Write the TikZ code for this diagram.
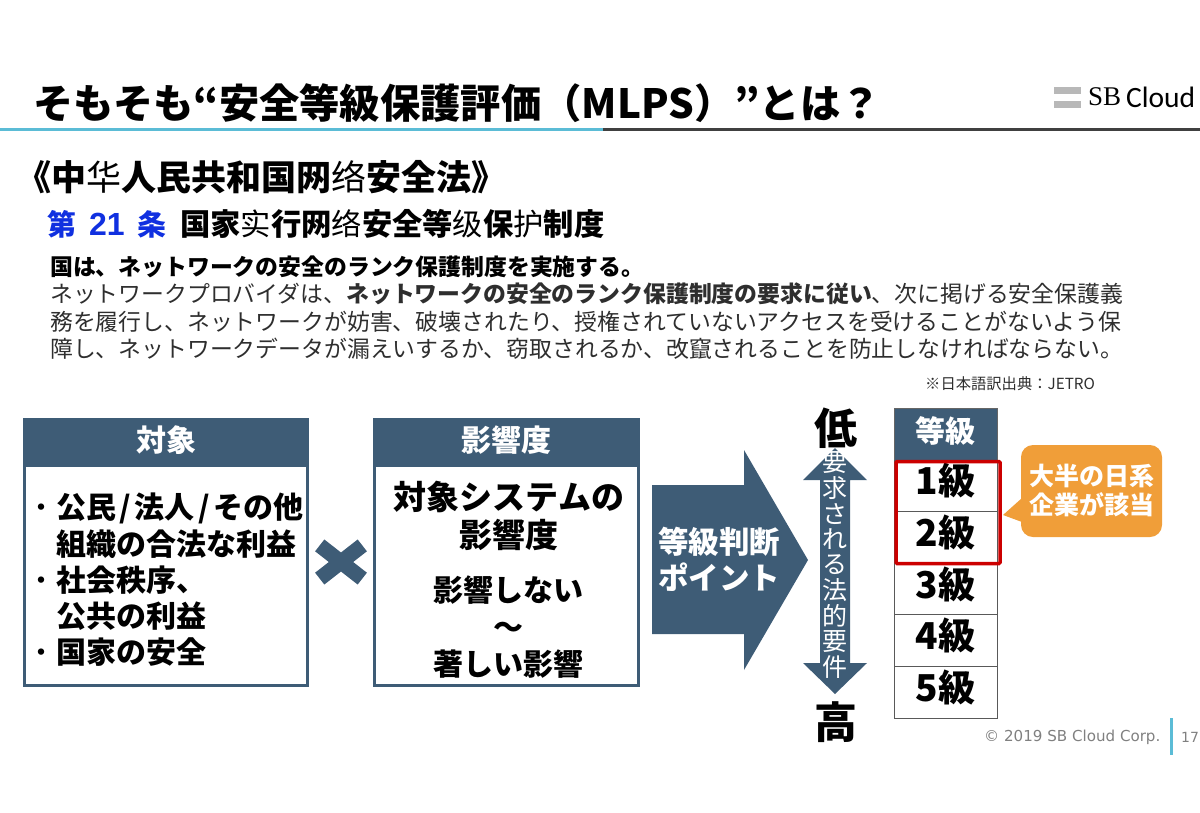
\documentclass[tikz,border=0pt]{standalone}
\usepackage{fontspec}
\setmainfont{Noto Sans CJK JP}
\newfontfamily\hanfont{Noto Sans CJK SC}
\newfontfamily\footfont{DejaVu Sans}
\newfontfamily\logoserif{Liberation Serif}
\newfontfamily\logosans{Carlito}
\newfontfamily\digitfont{Liberation Sans}
\newcommand{\fsize}[1]{\fontsize{#1}{#1}\selectfont}
\newcommand{\hanzi}[1]{{\hanfont\mdseries #1}}
\definecolor{slatebar}{HTML}{3E5C76}
\definecolor{linkblue}{HTML}{5BBCD6}
\definecolor{calloutorange}{HTML}{F09E39}
\definecolor{articleblue}{HTML}{1030E0}
\definecolor{bodygray}{HTML}{2E2E2E}
\tikzset{
  txt/.style={inner sep=0pt, anchor=west},
  bodyline/.style={txt, text=bodygray, font=\fsize{22.85}},
  headtxt/.style={inner sep=0pt, text=white, font=\fsize{30}\bfseries},
  gradetxt/.style={draw=black!65, line width=0.8pt, minimum width=103pt, minimum height=51.6pt, inner sep=0pt, text height=29pt, text depth=11pt, font=\fsize{37}\bfseries},
}
\begin{document}
\begin{tikzpicture}[x=1pt,y=-1pt]
    \useasboundingbox (0,0) rectangle (1200,812);

    % title
    \node[txt, font=\fsize{40.3}\bfseries] (title) at (33,103) {そもそも“安全等級保護評価（MLPS）”とは？};
    \draw[linkblue, line width=3pt] (0,129) -- (603,129);
    \draw[black!75, line width=3pt] (603,129) -- (1200,129);

    % logo
    \fill[black!28] (1054,87) rectangle (1081,94);
    \fill[black!28] (1054,101) rectangle (1081,108);
    \node[txt, font=\logoserif\fsize{27}] (logosb) at (1088,97) {SB};
    \node[txt, font=\logosans\fsize{29.5}] (logocloud) at (1126,97) {Cloud};

    % law text
    \node[txt, font=\fsize{35}\bfseries] (lawname) at (16,177) {《中\hanzi{华}人民共和国网\hanzi{络}安全法》};
    \node[txt, text=articleblue, font=\fsize{29}\bfseries] (article) at (47,224) {第\hspace{13pt}{\digitfont\fsize{32}21}\hspace{13pt}条};
    \node[txt, font=\fsize{30.3}\bfseries] (articlename) at (180,224) {国家\hanzi{实}行网\hanzi{络}安全等\hanzi{级}保\hanzi{护}制度};

    \node[bodyline, font=\fsize{22.85}\bfseries, text=black] (line0) at (50,267) {国は、ネットワークの安全のランク保護制度を実施する。};
    \node[bodyline] (line1) at (50,294) {ネットワークプロバイダは、\textbf{ネットワークの安全のランク保護制度の要求に従い}、次に掲げる安全保護義};
    \node[bodyline] (line2) at (50,322) {務を履行し、ネットワークが妨害、破壊されたり、授権されていないアクセスを受けることがないよう保};
    \node[bodyline] (line3) at (50,349) {障し、ネットワークデータが漏えいするか、窃取されるか、改竄されることを防止しなければならない。};
    \node[txt, text=bodygray, font=\fsize{15.3}] (source) at (925,384) {※日本語訳出典：JETRO};

    % left box
    \draw[slatebar, line width=3pt] (24.5,419.5) rectangle (307.5,685.5);
    \fill[slatebar] (23,418) rectangle (309,467);
    \node[headtxt] (targethead) at (166,440) {対象};
    \node[txt, align=left, font=\fontsize{30}{36.2}\selectfont\bfseries] (targetlist) at (26,580) {{\mdseries ・}公民\hspace{3.5pt}/\hspace{3.5pt}法人\hspace{3.5pt}/\hspace{3.5pt}その他\\\hspace*{30pt}組織の合法な利益\\{\mdseries ・}社会秩序、\\\hspace*{30pt}公共の利益\\{\mdseries ・}国家の安全};

    % times sign
    \foreach \a in {38,-38}
        \fill[slatebar, rotate around={\a:(341,562)}] (314,554.5) rectangle (368,569.5);

    % middle box
    \draw[slatebar, line width=3pt] (374.5,419.5) rectangle (638.5,685.5);
    \fill[slatebar] (373,418) rectangle (640,467);
    \node[headtxt] (impacthead) at (506,440) {影響度};
    \node[inner sep=0pt, align=center, font=\fontsize{33}{38}\selectfont\bfseries] (impactsys) at (509,516) {対象システムの\\影響度};
    \node[inner sep=0pt, align=center, font=\fontsize{30}{37}\selectfont\bfseries] (impactrange) at (508,627) {影響しない\\～\\著しい影響};

    % big arrow
    \fill[slatebar] (652,485) -- (744,485) -- (744,450) -- (808,560) -- (744,670) -- (744,634) -- (652,634) -- cycle;
    \node[inner sep=0pt, align=center, text=white, font=\fontsize{30.5}{36}\selectfont\bfseries] (pointtxt) at (719,559) {等級判断\\ポイント};

    % low - high arrow
    \node[inner sep=0pt, font=\fsize{43}\bfseries] (low) at (836,428) {低};
    \node[inner sep=0pt, font=\fsize{43}\bfseries] (high) at (836,722) {高};
    \fill[slatebar] (835,448) -- (867,480) -- (850,480) -- (850,663) -- (867,663) -- (835,694) -- (803,663) -- (820,663) -- (820,480) -- (803,480) -- cycle;
    \foreach \c [count=\i from 0] in {要,求,さ,れ,る,法,的,要,件}
        \node[inner sep=0pt, text=white, font=\fsize{25}] (req\i) at (835,463+25.5*\i) {\c};

    % grade table
    \node[fill=slatebar, draw=black!60, minimum width=103pt, minimum height=52pt, inner sep=0pt, text height=25pt, text depth=9pt, text=white, font=\fsize{30}\bfseries] (gradehead) at (945.5,434) {等級};
    \foreach \n [count=\i from 0] in {1,...,5}
        \node[gradetxt] (grade\n) at (945.5,485.8+51.6*\i) {\n 級};
    \draw[red!80!black, line width=3.5pt, rounded corners=1pt] (896,461.5) rectangle (1000,563.5);

    % callout
    \fill[calloutorange] (1022,498) -- (1003,515) -- (1022,522) -- cycle;
    \node[fill=calloutorange, rounded corners=12pt, minimum width=141pt, minimum height=92pt, inner sep=0pt, align=center, text=white, font=\fontsize{25}{29}\selectfont\bfseries] (callout) at (1091.5,491) {大半の日系\\企業が該当};

    % footer
    \node[txt, text=black!50, font=\footfont\fsize{15.1}] (copyright) at (984,737) {© 2019 SB Cloud Corp.};
    \draw[linkblue, line width=3pt] (1171,718) -- (1171,755);
    \node[txt, text=black!50, font=\footfont\fsize{14}] (pagenum) at (1181,737) {17};
\end{tikzpicture}
\end{document}
